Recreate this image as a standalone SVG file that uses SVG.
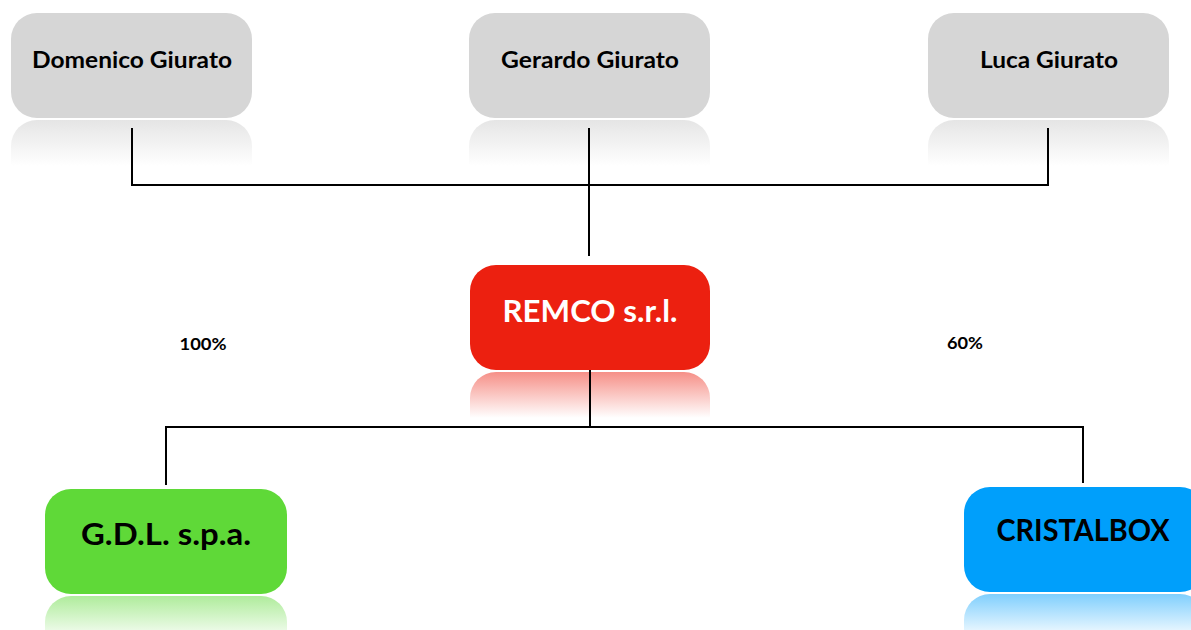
<svg xmlns="http://www.w3.org/2000/svg" width="1191" height="630" viewBox="0 0 1191 630">
<style>
.t{font-family:Lato,"Open Sans","Liberation Sans",sans-serif;font-weight:bold;text-anchor:middle}
.top{font-size:23px;fill:#000}
.big{font-size:31px}
.pct{font-size:17px;fill:#000}
.ln{stroke:#000;stroke-width:2;fill:none}
</style>
<defs>
<linearGradient id="rg" x1="0" y1="0" x2="0" y2="1"><stop offset="0" stop-color="#d4d4d4" stop-opacity="0.6"/><stop offset="1" stop-color="#d4d4d4" stop-opacity="0"/></linearGradient>
<linearGradient id="rr" x1="0" y1="0" x2="0" y2="1"><stop offset="0" stop-color="#ec2010" stop-opacity="0.5"/><stop offset="1" stop-color="#ec2010" stop-opacity="0"/></linearGradient>
<linearGradient id="rgn" x1="0" y1="0" x2="0" y2="1"><stop offset="0" stop-color="#5fd938" stop-opacity="0.5"/><stop offset="1" stop-color="#5fd938" stop-opacity="0"/></linearGradient>
<linearGradient id="rb" x1="0" y1="0" x2="0" y2="1"><stop offset="0" stop-color="#009ffb" stop-opacity="0.5"/><stop offset="1" stop-color="#009ffb" stop-opacity="0"/></linearGradient>
</defs>
<rect width="1191" height="630" fill="#fff"/>
<g id="n-domenico">
<path d="M11,166 V146 A26,26 0 0 1 37,120 H226 A26,26 0 0 1 252,146 V166 Z" fill="url(#rg)"/>
<rect x="11" y="13" width="241" height="105" rx="26" fill="#d6d6d6"/>
<text class="t top" x="132" y="68" textLength="200" lengthAdjust="spacingAndGlyphs">Domenico Giurato</text>
</g>
<g id="n-gerardo">
<path d="M469,166 V146 A26,26 0 0 1 495,120 H684 A26,26 0 0 1 710,146 V166 Z" fill="url(#rg)"/>
<rect x="469" y="13" width="241" height="105" rx="26" fill="#d6d6d6"/>
<text class="t top" x="590" y="68" textLength="178" lengthAdjust="spacingAndGlyphs">Gerardo Giurato</text>
</g>
<g id="n-luca">
<path d="M928,166 V146 A26,26 0 0 1 954,120 H1143 A26,26 0 0 1 1169,146 V166 Z" fill="url(#rg)"/>
<rect x="928" y="13" width="241" height="105" rx="26" fill="#d6d6d6"/>
<text class="t top" x="1049" y="68" textLength="138" lengthAdjust="spacingAndGlyphs">Luca Giurato</text>
</g>
<g id="n-remco">
<path d="M470,418 V398 A26,26 0 0 1 496,372 H684 A26,26 0 0 1 710,398 V418 Z" fill="url(#rr)"/>
<rect x="470" y="265" width="240" height="105" rx="26" fill="#ec2010"/>
<text class="t big" x="590" y="322" fill="#fff" textLength="175" lengthAdjust="spacingAndGlyphs">REMCO s.r.l.</text>
</g>
<g id="n-gdl">
<path d="M45,642 V622 A26,26 0 0 1 71,596 H261 A26,26 0 0 1 287,622 V642 Z" fill="url(#rgn)"/>
<rect x="45" y="489" width="242" height="105" rx="26" fill="#5fd938"/>
<text class="t big" x="166" y="545" fill="#000" textLength="170" lengthAdjust="spacingAndGlyphs">G.D.L. s.p.a.</text>
</g>
<g id="n-cristalbox">
<path d="M964,640 V620 A26,26 0 0 1 990,594 H1180 A26,26 0 0 1 1206,620 V640 Z" fill="url(#rb)"/>
<rect x="964" y="487" width="242" height="105" rx="26" fill="#009ffb"/>
<text class="t big" x="1083" y="541" fill="#000" textLength="173" lengthAdjust="spacingAndGlyphs">CRISTALBOX</text>
</g>
<g id="connectors">
<polyline class="ln" points="132,128 132,185 1048,185 1048,128"/>
<line class="ln" x1="589" y1="128" x2="589" y2="256"/>
<line class="ln" x1="590" y1="370" x2="590" y2="427"/>
<polyline class="ln" points="166,485 166,427 1083,427 1083,483"/>
</g>
<g id="labels">
<text class="t pct" x="203" y="350" textLength="47" lengthAdjust="spacingAndGlyphs">100%</text>
<text class="t pct" x="965" y="349" textLength="36" lengthAdjust="spacingAndGlyphs">60%</text>
</g>
</svg>
